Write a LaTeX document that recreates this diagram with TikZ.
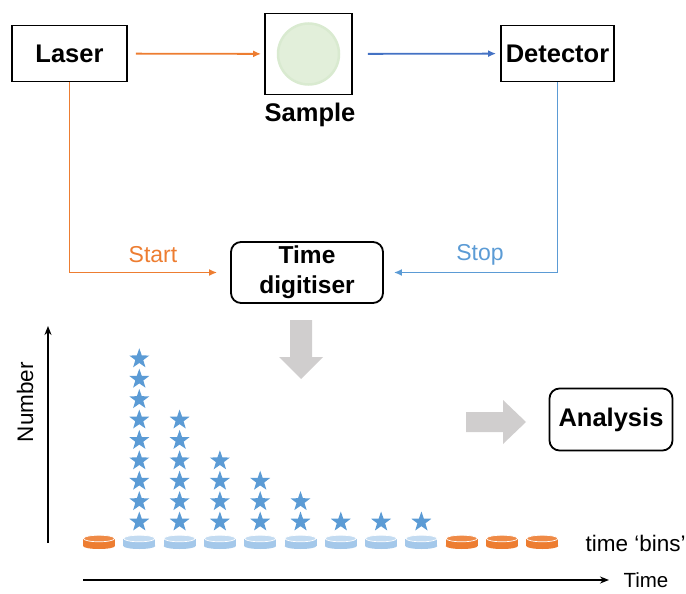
\documentclass[tikz,border=0pt]{standalone}
\usepackage{fontspec}
\setmainfont{Liberation Sans}
\usetikzlibrary{shapes.geometric,arrows.meta}
\definecolor{orng}{HTML}{ED7D31}
\definecolor{blu}{HTML}{4472C4}
\definecolor{lblu}{HTML}{5B9BD5}
\definecolor{starb}{HTML}{5B9BD5}
\definecolor{binb}{HTML}{A4C8EA}
\definecolor{bintop}{HTML}{C3DBF1}
\definecolor{gry}{HTML}{D0CECE}
\definecolor{grn}{HTML}{E2EFDA}
\definecolor{grnedge}{HTML}{D9EAD0}
\begin{document}
\begin{tikzpicture}[x=1pt,y=-1pt,
  box/.style={draw,line width=1.8pt,inner sep=0pt},
  rbox/.style={box,rounded corners=10pt},
  lbl/.style={font=\fontsize{25.5}{29}\selectfont\bfseries},
  small/.style={font=\fontsize{23}{27}\selectfont},
  conn/.style={line width=1.8pt,-{Latex[length=8pt,width=7pt]}},
  axis/.style={line width=1.5pt,-{Stealth[length=9pt,width=7pt]}},
  starnode/.style={star,star points=5,star point ratio=2.5,minimum size=21pt,inner sep=0pt,fill=starb},
]
\useasboundingbox (0,0) rectangle (686,594);

% top row
\node[box,lbl,minimum width=115pt,minimum height=56pt] (laser) at (69.5,53.5) {Laser};
\node[box,minimum width=87pt,minimum height=81pt] (sample) at (308.5,54) {};
\node[circle,fill=grn,draw=grnedge,line width=2.5pt,minimum size=61pt] (disc) at (308.5,54) {};
\node[lbl] (samplelbl) at (310,115) {Sample};
\node[box,lbl,minimum width=113pt,minimum height=56pt] (det) at (557.5,53.5) {Detector};

\draw[conn,orng,shorten <=8pt,shorten >=3pt] (laser) -- (sample);
\draw[conn,blu,shorten <=15pt,shorten >=4pt] (sample) -- (det);

% digitiser
\node[rbox,font=\fontsize{24.5}{30}\selectfont\bfseries,align=center,minimum width=152pt,minimum height=61pt] (dig) at (307,272.5) {Time\\digitiser};
\draw[conn,orng,shorten >=13pt] (laser.south) |- (dig.west);
\draw[conn,lblu,shorten >=10pt] (det.south) |- (dig.east);
\node[small,text=orng] (start) at (153,255) {Start};
\node[small,text=lblu] (stop) at (480,255) {Stop};

% gray arrows
\fill[gry] (290,320) -- (312,320) -- (312,357) -- (323,357) -- (301,379) -- (279,357) -- (290,357) -- cycle;
\fill[gry] (466,412) -- (503,412) -- (503,400) -- (526,422) -- (503,444) -- (503,432) -- (466,432) -- cycle;

% analysis
\node[rbox,lbl,minimum width=123pt,minimum height=62pt] (ana) at (611,419.5) {Analysis};

% axes
\coordinate (ny0) at (48,543);
\coordinate (ny1) at (48,326);
\draw[axis] (ny0) -- (ny1);
\node[font=\fontsize{22.5}{26}\selectfont,rotate=90] (numlbl) at (25,402) {Number};
\coordinate (tx0) at (83,580);
\coordinate (tx1) at (609,580);
\draw[axis] (tx0) -- (tx1);
\node[font=\fontsize{20.5}{24}\selectfont,anchor=west] (timelbl) at (620,580) {Time};
\node[font=\fontsize{22.5}{26}\selectfont,anchor=west] (binslbl) at (582,543) {time ‘bins’};

% bins
\foreach \i in {0,...,11}{
  \pgfmathsetmacro{\cx}{99+40.3*\i}
  \ifnum\i=0 \def\bc{orng}\def\tc{orng!90!white}\else
  \ifnum\i>8 \def\bc{orng}\def\tc{orng!90!white}\else
  \def\bc{binb}\def\tc{bintop}\fi\fi
  \fill[\bc] (\cx-16,538.5) rectangle (\cx+16,546);
  \fill[\bc] (\cx,546) ellipse [x radius=16, y radius=3];
  \filldraw[fill=\tc,draw=white,line width=0.7pt] (\cx,538.5) ellipse [x radius=15.6, y radius=3.3];
}

% stars
\foreach \i/\n in {1/9,2/6,3/4,4/3,5/2,6/1,7/1,8/1}{
  \foreach \k in {1,...,\n}{
    \node[starnode] (s\i-\k) at ({99+40.3*\i},{522-20.4*(\k-1)}) {};
  }
}
\end{tikzpicture}
\end{document}
